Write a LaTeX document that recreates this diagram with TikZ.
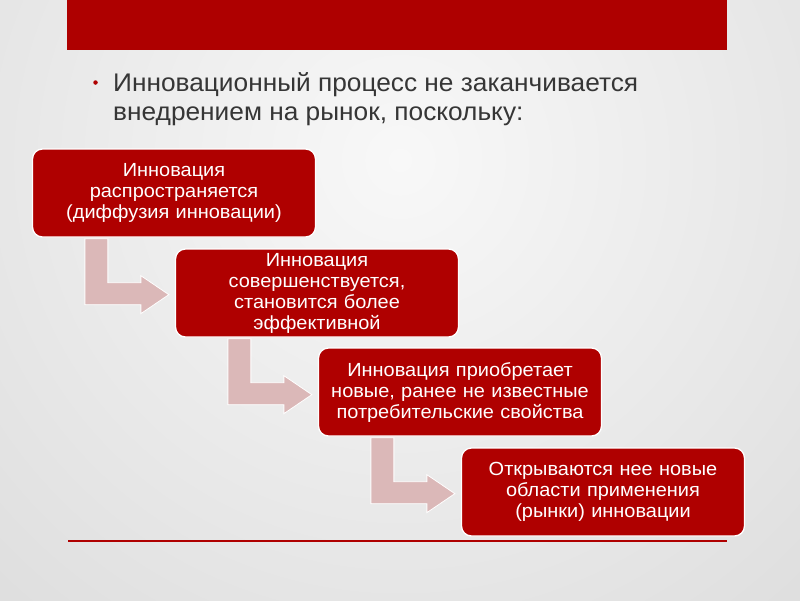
\documentclass[tikz,border=0pt]{standalone}
\usepackage{fontspec}
\setmainfont{Liberation Sans}
\definecolor{barred}{HTML}{AE0000}
\definecolor{boxred}{HTML}{AF0000}
\definecolor{arrowpink}{HTML}{DBB8B8}
\definecolor{headgray}{HTML}{363636}
\definecolor{bgouter}{HTML}{C9C9C9}
\definecolor{bginner}{HTML}{F8F8F8}
\pgfdeclarelayer{bglayer}
\pgfdeclarelayer{arrowlayer}
\pgfsetlayers{bglayer,arrowlayer,main}
\tikzset{
  stepbox/.style={draw=white, line width=1.3pt, fill=boxred, rounded corners=10pt,
    minimum width=283pt, minimum height=88pt, text width=275pt, align=center,
    text=white, font=\fontsize{19}{21}\selectfont\addfontfeature{FakeStretch=1.05}, inner sep=0pt},
  bentarrow/.style={fill=arrowpink, draw=white, line width=0.8pt},
  headline/.style={anchor=base west, text=headgray, font=\fontsize{25.5}{28}\selectfont\addfontfeature{FakeStretch=1.03}, inner sep=0pt}
}
\begin{document}
\begin{tikzpicture}[x=1pt,y=-1pt]
\useasboundingbox (0,0) rectangle (800,600);
\begin{pgfonlayer}{bglayer}
\begin{scope}
\clip (0,0) rectangle (800,600);
\shade[inner color=bginner, outer color=bgouter] (400,160) circle (1100);
\end{scope}
\end{pgfonlayer}
\fill[barred] (67,0) rectangle (727,50);
\node[circle, fill=boxred, inner sep=0pt, minimum size=4.5pt] (bullet) at (95.5,82.5) {};
\node[headline] (h1) at (113,91.5) {Инновационный процесс не заканчивается};
\node[headline] (h2) at (113,120) {внедрением на рынок, поскольку:};
\node[stepbox] (b1) at (174,193) {Инновация\\распространяется\\(диффузия инновации)};
\node[stepbox] (b2) at (317,293) {Инновация\\совершенствуется,\\становится более\\эффективной};
\node[stepbox] (b3) at (460,392) {Инновация приобретает\\новые, ранее не известные\\потребительские свойства};
\node[stepbox] (b4) at (603,492) {Открываются нее новые\\области применения\\(рынки) инновации};
\begin{pgfonlayer}{arrowlayer}
\foreach \b in {b1,b2,b3} {
  \begin{scope}[shift={(\b.south west)}]
    \draw[bentarrow] (53,1) -- (76,1) -- (76,45) -- (109,45) -- (109,38) -- (137,57) -- (109,76) -- (109,67) -- (53,67) -- cycle;
  \end{scope}
}
\end{pgfonlayer}
\draw[line width=2.4pt, draw=boxred] (68,541) -- (727,541);
\end{tikzpicture}
\end{document}
